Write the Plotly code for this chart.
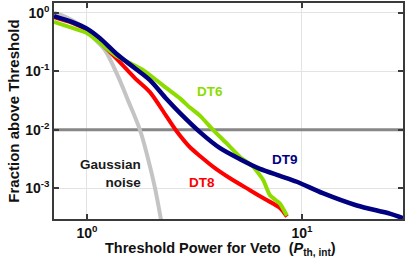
import numpy as np
import plotly.graph_objects as go

# ---- data ----
gauss_x = [0.703, 0.798, 1.0, 1.101, 1.213, 1.394, 1.551, 1.764, 1.919, 2.071, 2.209]
gauss_y = [1.0, 0.845, 0.506, 0.341, 0.230, 0.0826, 0.0322, 0.0100, 0.00335, 0.00103, 0.000295]

dt8_x = [0.703, 0.85, 1.0, 1.149, 1.394, 1.671, 1.963, 2.346, 2.614, 3.014, 3.354, 3.94, 4.63, 5.73, 6.72, 7.90, 8.51]
dt8_y = [0.845, 0.68, 0.506, 0.315, 0.155, 0.0766, 0.0442, 0.0170, 0.00948, 0.00505, 0.00358, 0.00222,
         0.00149, 0.000931, 0.000658, 0.000464, 0.000329]

dt6_x = [0.703, 0.833, 1.0, 1.375, 1.828, 2.346, 2.71, 3.014, 3.354, 3.87, 4.47, 5.15, 5.94, 6.61, 7.10, 7.90, 8.51]
dt6_y = [0.702, 0.570, 0.450, 0.182, 0.105, 0.0516, 0.0345, 0.0240, 0.0175, 0.00989, 0.00586, 0.00345,
         0.00233, 0.00138, 0.000762, 0.000550, 0.000343]

dt9_x = [0.703, 0.85, 1.0, 1.149, 1.375, 1.671, 1.963, 2.346, 2.71, 3.354, 4.16, 5.15, 6.38, 7.90, 9.46, 12.5, 18.0, 25.6, 29.5]
dt9_y = [0.878, 0.70, 0.537, 0.369, 0.198, 0.113, 0.0707, 0.0336, 0.0193, 0.00915, 0.00486, 0.00316, 0.00216,
         0.00164, 0.00130, 0.000828, 0.000510, 0.000370, 0.000310]

threshold = 0.01
x_range = [0.703, 29.5]
y_range = [3.0e-4, 1.47]

x_ticks = [1, 10]
x_ticktext = ["10<sup>0</sup>", "10<sup>1</sup>"]
y_ticks = [1, 0.1, 0.01, 0.001]
y_ticktext = ["10<sup>0</sup>", "10<sup>-1</sup>", "10<sup>-2</sup>", "10<sup>-3</sup>"]

labels = [
    ("DT6", 3.753, 0.0459, "#8cdc00"),
    ("DT9", 8.34, 0.00316, "#000080"),
    ("DT8", 3.44, 0.00125, "#ff0000"),
]
gauss_label = ("Gaussian<br>noise", 1.83, 0.00178)

FONT = "Liberation Sans, Arial, Helvetica, sans-serif"

fig = go.Figure()
fig.add_trace(go.Scatter(x=x_range, y=[threshold, threshold], mode="lines",
                         line=dict(color="#878787", width=3), hoverinfo="skip"))
fig.add_trace(go.Scatter(x=gauss_x, y=gauss_y, mode="lines",
                         line=dict(color="#c4c4c4", width=4, shape="spline")))
fig.add_trace(go.Scatter(x=dt8_x, y=dt8_y, mode="lines",
                         line=dict(color="#ff0000", width=4, shape="spline", smoothing=0.8)))
fig.add_trace(go.Scatter(x=dt6_x, y=dt6_y, mode="lines",
                         line=dict(color="#8cdc00", width=4, shape="spline", smoothing=0.5)))
fig.add_trace(go.Scatter(x=dt9_x, y=dt9_y, mode="lines",
                         line=dict(color="#000080", width=4.5, shape="spline", smoothing=0.8)))

for txt, x, y, col in labels:
    fig.add_annotation(x=np.log10(x), y=np.log10(y), text="<b>%s</b>" % txt, showarrow=False,
                       font=dict(family=FONT, size=13.5, color=col), xanchor="center", yanchor="middle")
fig.add_annotation(x=np.log10(gauss_label[1]), y=np.log10(gauss_label[2]), text="<b>%s</b>" % gauss_label[0],
                   showarrow=False, align="right", xanchor="right", yanchor="middle",
                   font=dict(family=FONT, size=13.5, color="#1a1a1a"))

# x-axis title (placed as paper annotation to match reference position)
fig.add_annotation(xref="paper", yref="paper", x=(220 - 54) / 349, y=-(249 - 219) / 216,
                   text="<b>Threshold Power for Veto  (<i>P</i><sub>th, int</sub>)</b>",
                   showarrow=False, xanchor="center", yanchor="middle",
                   font=dict(family=FONT, size=14.5, color="#111"))

axis_common = dict(type="log", showgrid=True, gridcolor="#e3e3e3", gridwidth=1,
                   showline=True, linecolor="#3a3a3a", linewidth=1.5, mirror="ticks",
                   ticks="inside", ticklen=5, tickwidth=1.5, tickcolor="#3a3a3a",
                   zeroline=False, automargin=False,
                   tickfont=dict(family=FONT, size=14, color="#111"))

fig.update_xaxes(range=[np.log10(x_range[0]), np.log10(x_range[1])], tickvals=x_ticks,
                 ticktext=["<b>%s</b>" % t for t in x_ticktext], **axis_common)
fig.update_yaxes(range=[np.log10(y_range[0]), np.log10(y_range[1])], tickvals=y_ticks,
                 ticktext=["<b>%s</b>" % t for t in y_ticktext],
                 title=dict(text="<b>Fraction above Threshold</b>",
                            font=dict(family=FONT, size=15, color="#111"), standoff=2),
                 **axis_common)

fig.update_layout(width=409, height=264, margin=dict(l=54, r=6, t=3, b=45),
                  plot_bgcolor="white", paper_bgcolor="white", showlegend=False)

fig.write_html("out.html", config={"displayModeBar": False},
               post_script="document.body.style.margin='0';document.body.style.padding='0';")
